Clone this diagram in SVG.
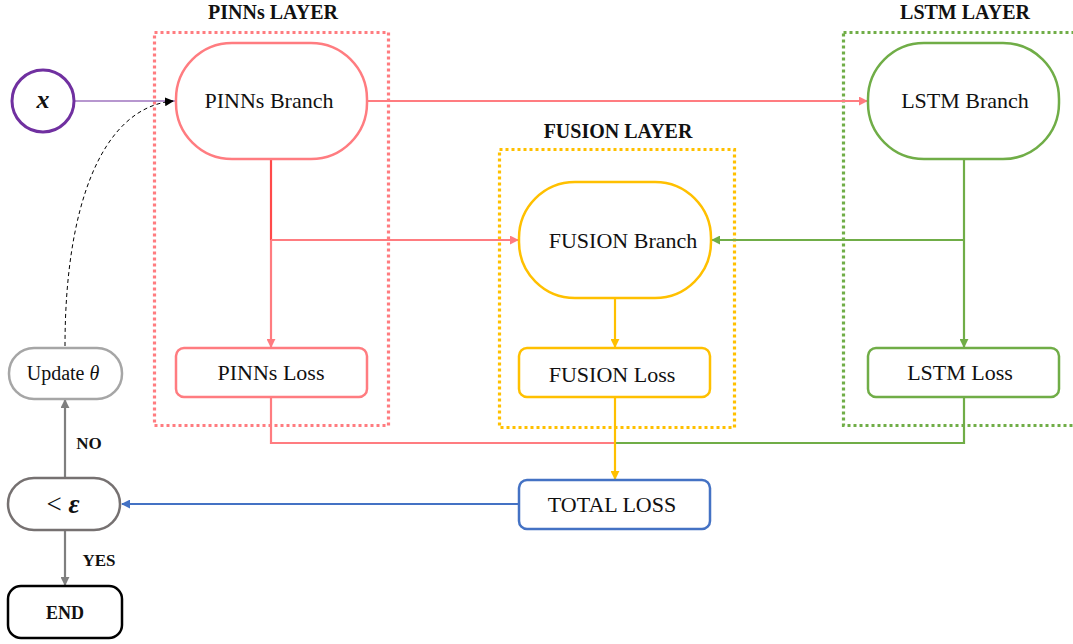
<svg xmlns="http://www.w3.org/2000/svg" width="1073" height="644" viewBox="0 0 1073 644">
<style>
text{font-family:"Liberation Serif","DejaVu Serif",serif;fill:#111;text-anchor:middle;dominant-baseline:central}
.lbl{font-size:22px}
.ttl{font-size:20px;font-weight:bold}
.yn{font-size:17px;font-weight:bold}
.n{fill:#fff;stroke-width:2.5}
.red{stroke:#FF7C80}
.yel{stroke:#FFC000}
.grn{stroke:#70AD47}
.blu{stroke:#4472C4}
.c{fill:none;stroke-width:2.2}
.layer{fill:none;stroke-width:3.2;stroke-dasharray:3 3}
</style>
<defs>
<marker id="aR" viewBox="0 0 10 10" refX="9" refY="5" markerWidth="9" markerHeight="9" markerUnits="userSpaceOnUse" orient="auto"><path d="M0,0L10,5L0,10z" fill="#FF7C80"/></marker>
<marker id="aY" viewBox="0 0 10 10" refX="9" refY="5" markerWidth="9" markerHeight="9" markerUnits="userSpaceOnUse" orient="auto"><path d="M0,0L10,5L0,10z" fill="#FFC000"/></marker>
<marker id="aG" viewBox="0 0 10 10" refX="9" refY="5" markerWidth="9" markerHeight="9" markerUnits="userSpaceOnUse" orient="auto"><path d="M0,0L10,5L0,10z" fill="#70AD47"/></marker>
<marker id="aB" viewBox="0 0 10 10" refX="9" refY="5" markerWidth="9" markerHeight="9" markerUnits="userSpaceOnUse" orient="auto"><path d="M0,0L10,5L0,10z" fill="#4472C4"/></marker>
<marker id="aK" viewBox="0 0 10 10" refX="9" refY="5" markerWidth="9" markerHeight="9" markerUnits="userSpaceOnUse" orient="auto"><path d="M0,0L10,5L0,10z" fill="#7F7F7F"/></marker>
<marker id="aD" viewBox="0 0 10 10" refX="9" refY="5" markerWidth="9" markerHeight="9" markerUnits="userSpaceOnUse" orient="auto"><path d="M0,0L10,5L0,10z" fill="#000"/></marker>
</defs>

<g id="layers">
<g id="pinns-layer"><rect class="layer red" x="154.5" y="32.5" width="234" height="393"/><text class="ttl" x="273" y="12">PINNs LAYER</text></g>
<g id="fusion-layer"><rect class="layer yel" x="499.5" y="149.5" width="235" height="278"/><text class="ttl" x="618" y="131">FUSION LAYER</text></g>
<g id="lstm-layer"><rect class="layer grn" x="843.5" y="32.5" width="245" height="393"/><text class="ttl" x="965" y="12">LSTM LAYER</text></g>
</g>

<g id="connectors">
<line x1="73" y1="101" x2="175" y2="101" stroke="#7030A0" stroke-width="1.2"/>
<path d="M65,346 C65,210 100,108 173,101" fill="none" stroke="#000" stroke-width="1" stroke-dasharray="4 3" marker-end="url(#aD)"/>
<line class="c red" x1="367" y1="101" x2="867" y2="101" marker-end="url(#aR)"/>
<line class="c" stroke="#FF4A4A" x1="271" y1="159" x2="271" y2="240"/>
<line class="c red" x1="271" y1="240" x2="518" y2="240" marker-end="url(#aR)"/>
<line class="c red" x1="271" y1="240" x2="271" y2="347" marker-end="url(#aR)"/>
<polyline class="c red" points="271,397 271,443 615,443"/>
<polyline class="c grn" points="615,443 964,443 964,397"/>
<line class="c grn" x1="964" y1="159" x2="964" y2="347" marker-end="url(#aG)"/>
<line class="c grn" x1="964" y1="240" x2="712" y2="240" marker-end="url(#aG)"/>
<line class="c yel" x1="615" y1="298" x2="615" y2="347" marker-end="url(#aY)"/>
<line class="c yel" x1="615" y1="395" x2="615" y2="479" marker-end="url(#aY)"/>
<line class="c blu" x1="519" y1="504" x2="122" y2="504" marker-end="url(#aB)"/>
<line class="c" stroke="#7F7F7F" stroke-width="2.5" x1="65" y1="478" x2="65" y2="400" marker-end="url(#aK)"/>
<line class="c" stroke="#7F7F7F" stroke-width="2.5" x1="65" y1="531" x2="65" y2="585" marker-end="url(#aK)"/>
<text class="yn" x="89" y="443">NO</text>
<text class="yn" x="99" y="560">YES</text>
</g>

<g id="x-node"><ellipse cx="43" cy="101" rx="31" ry="31" fill="#fff" stroke="#7030A0" stroke-width="3"/><text x="43" y="99" style="font-size:26px;font-weight:bold;font-style:italic">x</text></g>
<g id="pinns-branch"><rect class="n red" x="176" y="43" width="191" height="116" rx="56" ry="56"/><text class="lbl" x="269" y="100">PINNs Branch</text></g>
<g id="pinns-loss"><rect class="n red" x="176" y="348" width="191" height="49" rx="8"/><text class="lbl" x="271" y="372">PINNs Loss</text></g>
<g id="fusion-branch"><rect class="n yel" x="519" y="182" width="192" height="116" rx="56" ry="56"/><text class="lbl" x="623" y="240">FUSION Branch</text></g>
<g id="fusion-loss"><rect class="n yel" x="519" y="348" width="191" height="49" rx="8"/><text class="lbl" x="612" y="374">FUSION Loss</text></g>
<g id="lstm-branch"><rect class="n grn" x="868" y="43" width="191" height="116" rx="56" ry="56"/><text class="lbl" x="965" y="100">LSTM Branch</text></g>
<g id="lstm-loss"><rect class="n grn" x="868" y="348" width="191" height="49" rx="8"/><text class="lbl" x="960" y="372">LSTM Loss</text></g>
<g id="total-loss"><rect class="n blu" x="519" y="480" width="191" height="49" rx="8"/><text class="lbl" x="612" y="504">TOTAL LOSS</text></g>
<g id="update"><rect class="n" stroke="#A6A6A6" x="9" y="348" width="113" height="51" rx="25"/><text class="lbl" x="63" y="373" style="font-size:20px">Update <tspan font-style="italic">θ</tspan></text></g>
<g id="check"><rect class="n" stroke="#767171" x="8" y="478" width="112" height="52" rx="26"/><text x="63" y="504" style="font-size:27px">&lt; <tspan font-weight="bold" font-style="italic">ε</tspan></text></g>
<g id="end"><rect class="n" stroke="#000" x="8" y="586" width="114" height="52" rx="13"/><text x="65" y="613" style="font-size:18px;font-weight:bold">END</text></g>
</svg>
